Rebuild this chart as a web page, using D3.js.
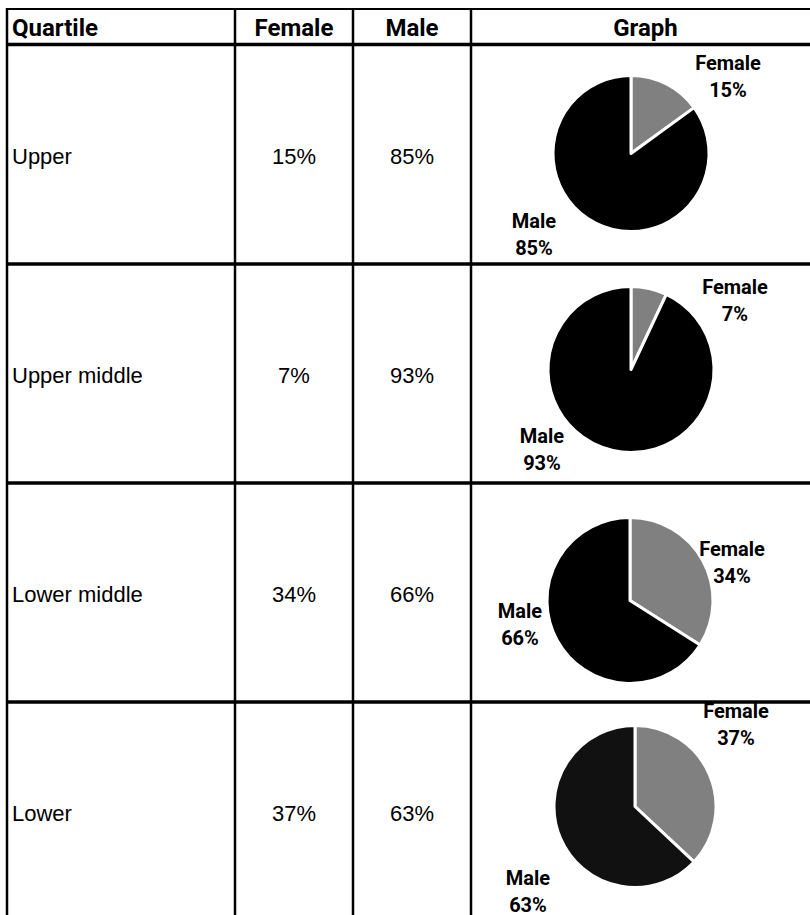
<!DOCTYPE html>
<html><head><meta charset="utf-8">
<script src="https://cdn.jsdelivr.net/npm/d3@7"></script>
<style>body{margin:0;background:#fff}</style>
</head><body>
<svg id="c" width="810" height="915"></svg>
<script>
// ---- data ----
const quartiles = ["Upper", "Upper middle", "Lower middle", "Lower"];
const femaleShare = [15, 7, 34, 37];
const maleShare = [85, 93, 66, 63];
const headers = ["Quartile", "Female", "Male", "Graph"];
const seriesNames = ["Female", "Male"];

// ---- layout (not data) ----
const colEdges = [7, 235, 353, 471, 820];
const pieCenterShift = [[0, -1], [0, -4], [-1, 8], [4, -5]];
const pieRadius = [78, 83, 83, 81];
const maleColor = ["#000", "#000", "#000", "#111"];
const femaleLabelOff = [[97, -91], [104, -83], [102, -52], [101, -96]];
const maleLabelOff = [[-97, 67], [-89, 66], [-110, 10], [-107, 71]];

const svg = d3.select("#c");
const W = 810, H = 915;

const y = d3.scaleBand().domain(quartiles).range([45, 45 + 219 * 4]).padding(0);
const colX = d3.scaleOrdinal().domain(headers).range(colEdges.slice(0, 4).map((e, i) => (e + colEdges[i + 1]) / 2));
const pieX = colX("Graph") - 14.5;

const headFont = "Roboto, 'DejaVu Sans', sans-serif";
const bodyFont = "'Liberation Sans', Arial, sans-serif";

// header texts
svg.append("g").selectAll("text").data(headers).join("text")
  .attr("x", (d, i) => i === 0 ? 12 : colX(d))
  .attr("y", 36)
  .attr("text-anchor", (d, i) => i === 0 ? "start" : "middle")
  .attr("font-family", headFont).attr("font-weight", 700).attr("font-size", 24)
  .attr("fill", "#000")
  .text(d => d);

// body rows
const rows = quartiles.map((q, i) => ({ q, f: femaleShare[i], m: maleShare[i], i }));
const rowG = svg.append("g").selectAll("g").data(rows).join("g");
rowG.append("text")
  .attr("x", 12).attr("y", d => y(d.q) + y.bandwidth() / 2 + 9)
  .attr("font-family", bodyFont).attr("font-size", 22).attr("fill", "#000")
  .text(d => d.q);
rowG.append("text")
  .attr("x", colX("Female")).attr("y", d => y(d.q) + y.bandwidth() / 2 + 9)
  .attr("text-anchor", "middle")
  .attr("font-family", bodyFont).attr("font-size", 22).attr("fill", "#000")
  .text(d => d.f + "%");
rowG.append("text")
  .attr("x", colX("Male")).attr("y", d => y(d.q) + y.bandwidth() / 2 + 9)
  .attr("text-anchor", "middle")
  .attr("font-family", bodyFont).attr("font-size", 22).attr("fill", "#000")
  .text(d => d.m + "%");

// pies
const pie = d3.pie().sort(null).value(d => d.v).startAngle(0).endAngle(2 * Math.PI);
rowG.each(function (d) {
  const g = d3.select(this);
  const cx = pieX + pieCenterShift[d.i][0];
  const cy = y(d.q) + y.bandwidth() / 2 + pieCenterShift[d.i][1];
  const r = pieRadius[d.i];
  const arc = d3.arc().innerRadius(0).outerRadius(r);
  const slices = pie([{ name: seriesNames[0], v: d.f }, { name: seriesNames[1], v: d.m }]);
  const pg = g.append("g").attr("transform", `translate(${cx},${cy})`);
  pg.selectAll("path").data(slices).join("path")
    .attr("d", arc)
    .attr("fill", s => s.data.name === "Female" ? "#808080" : maleColor[d.i])
    .attr("stroke", "#fff").attr("stroke-width", 3).attr("stroke-linejoin", "round");
  const labels = [
    { off: femaleLabelOff[d.i], name: seriesNames[0], v: d.f },
    { off: maleLabelOff[d.i], name: seriesNames[1], v: d.m }
  ];
  labels.forEach(L => {
    const t = pg.append("text")
      .attr("text-anchor", "middle")
      .attr("font-family", headFont).attr("font-weight", 700).attr("font-size", 20)
      .attr("fill", "#000");
    t.append("tspan").attr("x", L.off[0]).attr("y", L.off[1] + 7).text(L.name);
    t.append("tspan").attr("x", L.off[0]).attr("y", L.off[1] + 7 + 27).text(L.v + "%");
  });
});

// grid lines (drawn on top)
const grid = svg.append("g").attr("stroke", "#000");
grid.append("line").attr("x1", 6).attr("x2", W).attr("y1", 9).attr("y2", 9).attr("stroke-width", 2);
grid.append("line").attr("x1", 6).attr("x2", W).attr("y1", 44.5).attr("y2", 44.5).attr("stroke-width", 3.5);
grid.selectAll("line.row").data(quartiles.slice(1)).join("line").attr("class", "row")
  .attr("x1", 6).attr("x2", W).attr("y1", d => y(d)).attr("y2", d => y(d)).attr("stroke-width", 3.5);
grid.selectAll("line.col").data(colEdges.slice(0, 4)).join("line").attr("class", "col")
  .attr("x1", d => d).attr("x2", d => d).attr("y1", 8).attr("y2", H).attr("stroke-width", 2.5);
</script>
</body></html>
